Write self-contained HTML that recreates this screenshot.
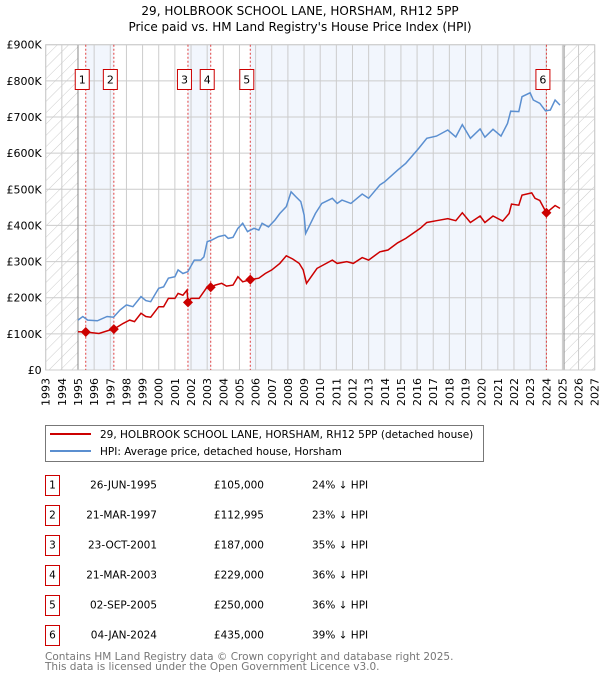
<!DOCTYPE html>
<html><head><meta charset="utf-8"><style>
body{margin:0;background:#fff;font-family:"Liberation Sans","DejaVu Sans",sans-serif}
svg text{font-family:"DejaVu Sans","Liberation Sans",sans-serif}
</style></head><body>
<svg id="c" width="600" height="680" xmlns="http://www.w3.org/2000/svg">
<defs><pattern id="hatch" width="8" height="8" patternUnits="userSpaceOnUse" patternTransform="rotate(45)"><line x1="0" y1="0" x2="0" y2="8" stroke="#ccc" stroke-width="1"/></pattern></defs>
<text x="300" y="15" text-anchor="middle" font-size="12" fill="#000">29, HOLBROOK SCHOOL LANE, HORSHAM, RH12 5PP</text>
<text x="300" y="31" text-anchor="middle" font-size="12" fill="#000">Price paid vs. HM Land Registry's House Price Index (HPI)</text>
<g id="plot"></g>
<g>
<rect x="45.5" y="425.5" width="438" height="36" fill="#fff" stroke="#777"/>
<line x1="50" y1="434" x2="91" y2="434" stroke="#cc0000" stroke-width="2"/>
<text x="100" y="438" font-size="10.5">29, HOLBROOK SCHOOL LANE, HORSHAM, RH12 5PP (detached house)</text>
<line x1="50" y1="451" x2="91" y2="451" stroke="#5b8fd0" stroke-width="2"/>
<text x="100" y="455" font-size="10.5">HPI: Average price, detached house, Horsham</text>
</g>
<g id="table"></g>
<text x="45" y="660" font-size="10.5" fill="#777">Contains HM Land Registry data © Crown copyright and database right 2025.</text>
<text x="45" y="670" font-size="10.5" fill="#777">This data is licensed under the Open Government Licence v3.0.</text>
</svg>
<script>
const yTicks=[0,100,200,300,400,500,600,700,800,900];
const yTickLabels=["£0","£100K","£200K","£300K","£400K","£500K","£600K","£700K","£800K","£900K"];
const years=[1993,1994,1995,1996,1997,1998,1999,2000,2001,2002,2003,2004,2005,2006,2007,2008,2009,2010,2011,2012,2013,2014,2015,2016,2017,2018,2019,2020,2021,2022,2023,2024,2025,2026,2027];
const hpiDates=[1995.0,1995.3,1995.6,1996.2,1996.8,1997.2,1997.6,1998.0,1998.4,1998.9,1999.2,1999.5,2000.0,2000.3,2000.6,2001.0,2001.2,2001.5,2001.8,2002.2,2002.6,2002.8,2003.0,2003.3,2003.7,2004.1,2004.3,2004.6,2004.9,2005.2,2005.5,2005.9,2006.2,2006.4,2006.8,2007.2,2007.5,2007.9,2008.2,2008.5,2008.8,2009.0,2009.1,2009.7,2010.1,2010.75,2011.05,2011.35,2011.9,2012.6,2013.0,2013.7,2014.0,2014.8,2015.3,2016.1,2016.6,2017.2,2017.9,2018.4,2018.8,2019.3,2019.9,2020.2,2020.7,2021.2,2021.6,2021.8,2022.3,2022.5,2023.0,2023.2,2023.6,2023.95,2024.25,2024.55,2024.85];
const hpiValues=[138,148,138,136,148,146,166,180,175,203,192,189,226,230,254,258,277,267,272,304,304,313,355,360,369,373,364,367,392,406,383,392,387,406,396,415,433,452,493,479,466,429,378,433,461,475,461,470,461,487,475,512,521,553,572,613,641,647,664,645,679,641,667,644,666,647,682,716,715,756,767,747,738,717,719,747,733];
const ppDates=[1995.0,1995.48,1996.3,1997.0,1997.22,1997.8,1998.2,1998.5,1998.9,1999.2,1999.5,2000.0,2000.3,2000.6,2001.0,2001.2,2001.5,2001.75,2001.81,2002.0,2002.5,2003.0,2003.22,2003.5,2003.9,2004.2,2004.6,2004.9,2005.2,2005.67,2006.2,2006.6,2007.0,2007.5,2007.9,2008.3,2008.7,2008.95,2009.15,2009.8,2010.75,2011.05,2011.65,2012.05,2012.6,2013.0,2013.7,2014.2,2014.8,2015.3,2016.2,2016.6,2017.2,2017.9,2018.4,2018.8,2019.3,2019.9,2020.2,2020.7,2021.3,2021.7,2021.85,2022.3,2022.5,2023.1,2023.3,2023.6,2024.01,2024.55,2024.85];
const ppValues=[106,105,101,111,113,129,138,134,157,148,146,175,175,198,198,212,207,221,187,198,198,230,229,235,240,232,235,258,244,250,254,267,277,295,316,307,295,277,240,281,304,295,300,295,311,304,327,332,352,364,392,408,413,419,413,435,408,426,408,426,412,433,459,456,484,490,475,469,435,455,447];
const saleDates=[1995.48,1997.22,2001.81,2003.22,2005.67,2024.01];
const saleValues=[105,112.995,187,229,250,435];
const saleLabels=["1","2","3","4","5","6"];
const saleDateText=["26-JUN-1995","21-MAR-1997","23-OCT-2001","21-MAR-2003","02-SEP-2005","04-JAN-2024"];
const salePriceText=["£105,000","£112,995","£187,000","£229,000","£250,000","£435,000"];
const salePctText=["24% ↓ HPI","23% ↓ HPI","35% ↓ HPI","36% ↓ HPI","36% ↓ HPI","39% ↓ HPI"];
const NS="http://www.w3.org/2000/svg";
const X0=45.7,X1=594.7,Y0=370,Y1=44.7;
const xs=d=>X0+(d-1993)/(2027-1993)*(X1-X0);
const ys=v=>Y0-v/900*(Y0-Y1);
function mk(tag,attrs,parent,txt){const e=document.createElementNS(NS,tag);for(const k in attrs)e.setAttribute(k,attrs[k]);if(txt!==undefined)e.textContent=txt;parent.appendChild(e);return e;}
const g=document.getElementById('plot');
let e;
// shaded ownership bands
for(let i=0;i+1<saleDates.length;i+=2){
 e=mk('rect',{x:xs(saleDates[i]),y:Y1,width:xs(saleDates[i+1])-xs(saleDates[i]),height:Y0-Y1,fill:'#eef3fc',opacity:0.75},g);
 
 
}
// hatched areas
e=mk('rect',{x:X0,y:Y1,width:xs(1995)-X0,height:Y0-Y1,fill:'url(#hatch)'},g);


e=mk('rect',{x:xs(2025.1),y:Y1,width:X1-xs(2025.1),height:Y0-Y1,fill:'url(#hatch)'},g);


// grid
years.forEach(y=>{e=mk('line',{x1:xs(y),x2:xs(y),y1:Y1,y2:Y0,stroke:'#ccc','stroke-width':1},g);
 
 
 e=mk('text',{x:0,y:0,transform:`translate(${xs(y)+4},${Y0+8}) rotate(-90)`,'text-anchor':'end','font-size':11},g,String(y));
 
 
});
yTicks.forEach((v,i)=>{e=mk('line',{x1:X0,x2:X1,y1:ys(v),y2:ys(v),stroke:'#ccc','stroke-width':1},g);
 
 
 e=mk('text',{x:X0-4,y:ys(v)+4,'text-anchor':'end','font-size':11},g,yTickLabels[i]);
 
 
});
e=mk('line',{x1:xs(1995),x2:xs(1995),y1:Y1,y2:Y0,stroke:'#888'},g);


e=mk('line',{x1:xs(2025.1),x2:xs(2025.1),y1:Y1,y2:Y0,stroke:'#888'},g);


e=mk('rect',{x:X0,y:Y1,width:X1-X0,height:Y0-Y1,fill:'none',stroke:'#ccc'},g);


// sale lines
saleDates.forEach((d,i)=>{
 e=mk('line',{x1:xs(d),x2:xs(d),y1:Y1,y2:Y0,stroke:'#e04040','stroke-width':1,'stroke-dasharray':'2,2'},g);
 
 
});
// series
const path=(ds,vs)=>ds.map((d,i)=>(i?'L':'M')+xs(d).toFixed(1)+','+ys(vs[i]).toFixed(1)).join('');
e=mk('path',{d:path(hpiDates,hpiValues),fill:'none',stroke:'#5b8fd0','stroke-width':1.5},g);


e=mk('path',{d:path(ppDates,ppValues),fill:'none',stroke:'#cc0000','stroke-width':1.5},g);


saleDates.forEach((d,i)=>{
 const cx=xs(d),cy=ys(saleValues[i]);
 e=mk('path',{d:`M${cx-5},${cy}L${cx},${cy-5}L${cx+5},${cy}L${cx},${cy+5}Z`,fill:'#cc0000'},g);
 
 
 e=mk('rect',{x:cx-10.5,y:69.5,width:14,height:20,fill:'#fff',stroke:'#cc0000'},g);
 
 
 e=mk('text',{x:cx-3.5,y:83.5,'text-anchor':'middle','font-size':11},g,saleLabels[i]);
 
 
});
// table
const t=document.getElementById('table');
saleLabels.forEach((l,i)=>{
 const y0=475.5+i*30;
 e=mk('rect',{x:45.5,y:y0,width:14,height:20,fill:'#fff',stroke:'#cc0000'},t);
 
 
 e=mk('text',{x:52.5,y:y0+13,'text-anchor':'middle','font-size':10.5},t,l);
 
 
 e=mk('text',{x:157,y:y0+13,'text-anchor':'end','font-size':10.5},t,saleDateText[i]);
 
 
 e=mk('text',{x:264,y:y0+13,'text-anchor':'end','font-size':10.5},t,salePriceText[i]);
 
 
 e=mk('text',{x:312,y:y0+13,'font-size':10.5},t,salePctText[i]);
 
 
});
</script>
</body></html>
